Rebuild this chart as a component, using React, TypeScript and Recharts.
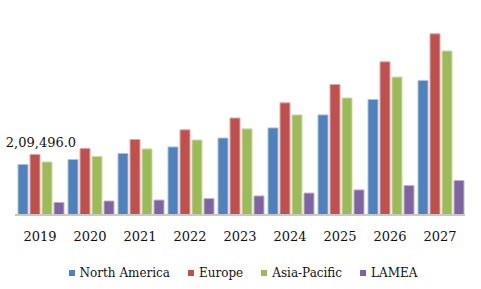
import React from "react";
import { BarChart, Bar, XAxis, YAxis, Legend, LabelList } from "recharts";

const years = ["2019", "2020", "2021", "2022", "2023", "2024", "2025", "2026", "2027"];
const northAmerica = [209496, 230000, 255000, 282000, 319000, 361000, 415000, 479000, 558000];
const europe = [251000, 276000, 313000, 353000, 402000, 465000, 541000, 635000, 751000];
const asiaPacific = [220000, 243000, 274000, 311000, 357000, 415000, 485000, 572000, 680000];
const lamea = [52000, 58000, 62000, 68000, 79000, 91000, 104000, 122000, 143000];

const SERIES = [
  { key: "na", name: "North America", fill: "#4F81BD", edge: "#a9c2e0" },
  { key: "eu", name: "Europe", fill: "#C0504D", edge: "#e2a9a7" },
  { key: "ap", name: "Asia-Pacific", fill: "#9BBB59", edge: "#cddcad" },
  { key: "la", name: "LAMEA", fill: "#8064A2", edge: "#bfb1d0" },
];

const data = years.map((year, i) => ({
  year,
  na: northAmerica[i],
  eu: europe[i],
  ap: asiaPacific[i],
  la: lamea[i],
}));

const FONT = "'DejaVu Serif', serif";

function fmt(v: number) {
  // indian style grouping, like the source
  const s = String(v);
  const last3 = s.slice(-3);
  const rest = s.slice(0, -3).replace(/\B(?=(\d{2})+(?!\d))/g, ",");
  return (rest ? rest + "," : "") + last3 + ".0";
}

function FirstLabel(props: any) {
  const { x, y, width, index, value } = props;
  if (index !== 0) return null;
  // centre over the whole year group (4 bars + 3 gaps)
  const cx = x + width * 2 + 3;
  return (
    <text x={cx} y={y - 17} textAnchor="middle" fontFamily={FONT} fontSize={13} fill="#111">
      {fmt(value)}
    </text>
  );
}

function LegendBox() {
  return (
    <div
      style={{
        display: "flex",
        justifyContent: "center",
        alignItems: "center",
        height: 20,
        paddingLeft: 5,
        fontFamily: FONT,
        fontSize: 12,
        color: "#111",
      }}
    >
      {SERIES.map((s, i) => (
        <div
          key={s.key}
          style={{ display: "flex", alignItems: "center", marginRight: i < SERIES.length - 1 ? 18 : 0 }}
        >
          <span style={{ width: 6, height: 6, background: s.fill, marginRight: 5, display: "inline-block" }} />
          <span>{s.name}</span>
        </div>
      ))}
    </div>
  );
}

export default function App() {
  return (
    <div style={{ position: "absolute", left: 0, top: 0, width: 481, height: 289, background: "#fff" }}>
      <BarChart
        width={481}
        height={289}
        data={data}
        margin={{ top: 22, right: 16, bottom: 6, left: 15 }}
        barCategoryGap={3}
        barGap={2}
      >
        <XAxis
          dataKey="year"
          axisLine={{ stroke: "#c8c8c8", strokeWidth: 2 }}
          tickLine={false}
          tickSize={6}
          tickMargin={11}
          height={48}
          tick={{ fill: "#111", fontSize: 13, fontFamily: FONT }}
          interval={0}
        />
        <YAxis hide domain={[0, 800000]} />
        <Legend
          verticalAlign="bottom"
          content={() => <LegendBox />}
          wrapperStyle={{ left: 0, width: 481, height: 20 }}
        />
        {SERIES.map((s) => (
          <Bar
            key={s.key}
            dataKey={s.key}
            name={s.name}
            fill={s.fill}
            stroke={s.edge}
            strokeWidth={1}
            isAnimationActive={false}
          >
            {s.key === "na" && <LabelList dataKey="na" content={FirstLabel} />}
          </Bar>
        ))}
      </BarChart>
    </div>
  );
}
